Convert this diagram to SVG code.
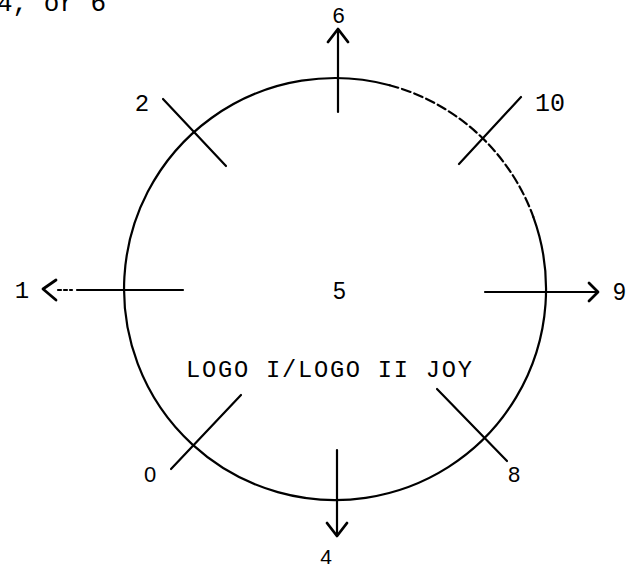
<svg xmlns="http://www.w3.org/2000/svg" width="640" height="570" viewBox="0 0 640 570">
<style>
.ln{stroke:#000;stroke-width:2.2;fill:none;stroke-linecap:round}
.ah{stroke:#000;stroke-width:2.8;fill:none;stroke-linecap:round;stroke-linejoin:round}
.mono{font-family:"Liberation Mono","Courier New",monospace;fill:#000}
.sans{font-family:"Liberation Sans",Arial,sans-serif;fill:#000}
</style>
<rect width="640" height="570" fill="#fff"/>
<text class="mono" x="-3" y="11" font-size="26">4, or 6</text>
<g id="circle">
<path class="ln" d="M533.3,216.8 A211,211 0 1 1 389.6,85.2"/>
<path class="ln" stroke-width="1.2" stroke-dasharray="9 4" d="M389.6,85.2 A211,211 0 0 1 533.3,216.8"/>
</g>
<g id="connectors">
<g id="c6"><line class="ln" x1="338" y1="112" x2="338" y2="30"/><path class="ah" d="M328,42 L338,29 L348,42"/></g>
<g id="c4"><line class="ln" x1="337" y1="450" x2="337" y2="535"/><path class="ah" d="M327,523 L337,536 L347,523"/></g>
<g id="c1"><line class="ln" x1="77" y1="290" x2="183" y2="290"/><line class="ln" stroke-width="1.2" stroke-dasharray="3 3" x1="58" y1="290" x2="72" y2="290"/><path class="ah" stroke-width="3.4" d="M56,280 L43,289 L56,300"/></g>
<g id="c9"><line class="ln" x1="485" y1="292" x2="597" y2="292"/><path class="ah" d="M589,283 L598,292 L589,301"/></g>
<g id="c2"><line class="ln" x1="163" y1="99" x2="226" y2="166"/></g>
<g id="c10"><line class="ln" x1="459" y1="164" x2="521" y2="97"/></g>
<g id="c0"><line class="ln" x1="171" y1="469" x2="241" y2="395"/></g>
<g id="c8"><line class="ln" x1="437" y1="389" x2="507" y2="461"/></g>
</g>
<g id="n6"><text class="sans" x="338.5" y="23" font-size="22" text-anchor="middle">6</text></g>
<g id="n2"><text class="mono" x="142" y="111" font-size="24" text-anchor="middle">2</text></g>
<g id="n10"><text class="mono" x="535" y="111" font-size="25">10</text></g>
<g id="n1"><text class="mono" x="22" y="298" font-size="24" text-anchor="middle">1</text></g>
<g id="n5"><text class="sans" x="339.5" y="299" font-size="23" text-anchor="middle">5</text></g>
<g id="n9"><text class="sans" x="613" y="300" font-size="23">9</text></g>
<g id="label"><text class="mono" x="186" y="377" font-size="23.7" textLength="286">LOGO I/LOGO II JOY</text></g>
<g id="n0"><text class="sans" x="150" y="482" font-size="22" text-anchor="middle">0</text></g>
<g id="n8"><text class="sans" x="514" y="482" font-size="22" text-anchor="middle">8</text></g>
<g id="n4"><text class="sans" x="326" y="564" font-size="21" text-anchor="middle">4</text></g>
</svg>
